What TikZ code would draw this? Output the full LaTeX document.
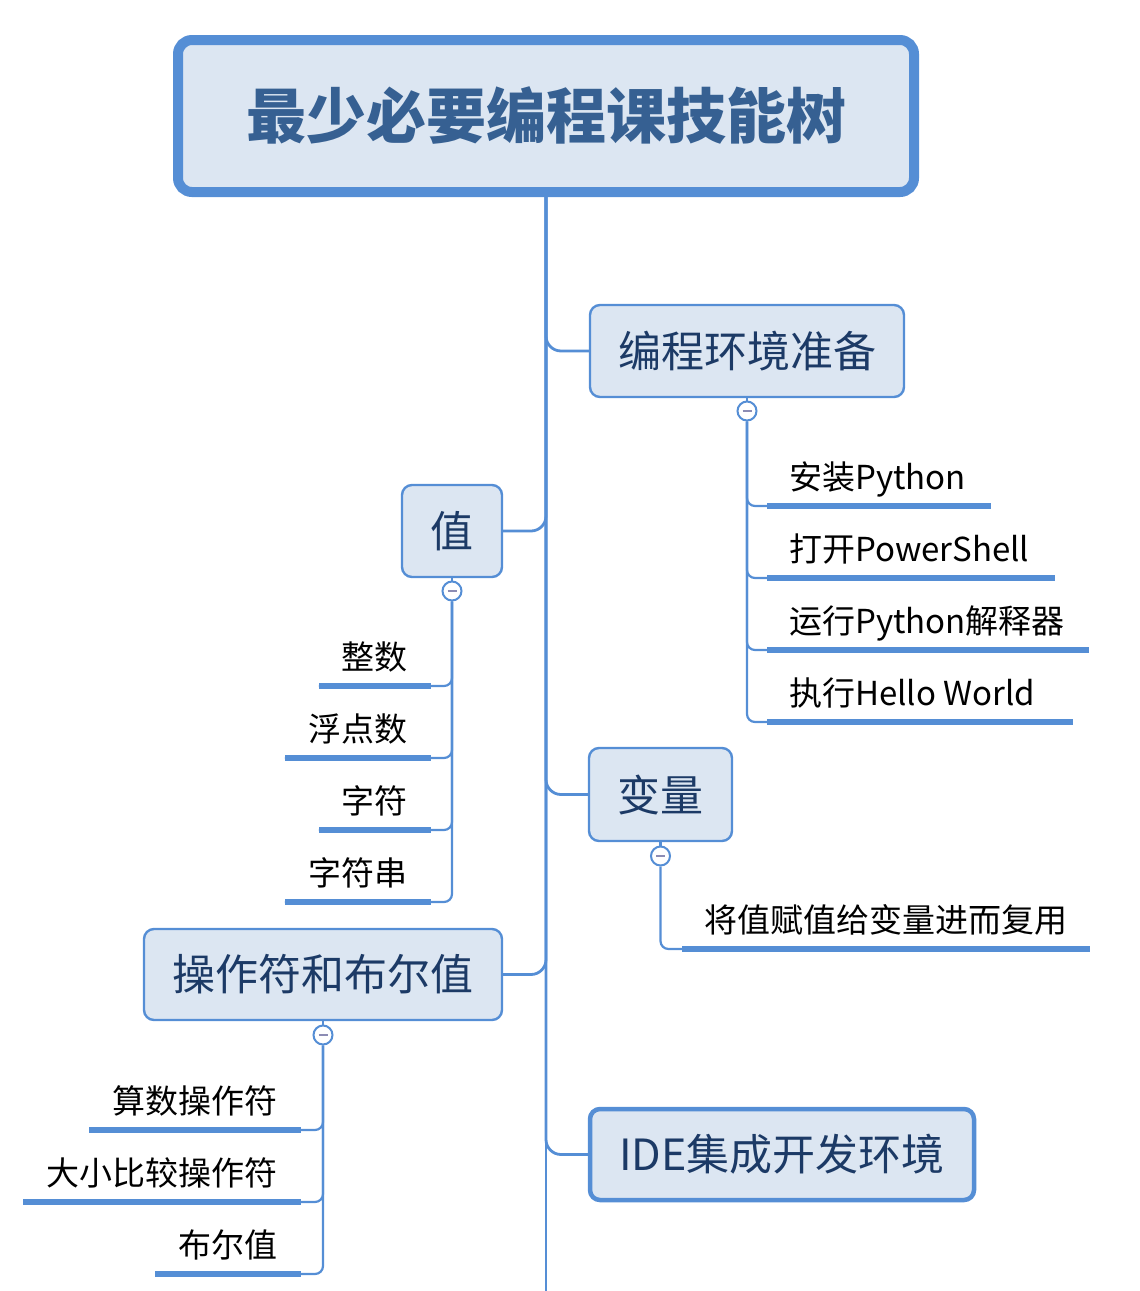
\documentclass[tikz,border=0pt]{standalone}
\usepackage{fontspec}
\newfontfamily\cjk{Noto Sans CJK SC}
\definecolor{lineblue}{HTML}{558ED5}
\definecolor{boxfill}{HTML}{DCE6F2}
\definecolor{roottext}{HTML}{366092}
\definecolor{topictext}{HTML}{1C3A66}
\definecolor{minuscol}{HTML}{8C8CB4}
\begin{document}
\begin{tikzpicture}[x=1pt,y=-1pt,
  topic/.style={draw=lineblue, line width=2.4pt, fill=boxfill, rounded corners=10pt,
    font=\cjk\fontsize{43}{50}\selectfont, text=topictext, inner sep=0pt},
  fold/.style={circle, draw=lineblue, line width=2pt, fill=white, minimum size=19pt, inner sep=0pt,
    path picture={\draw[minuscol, line width=2.5pt]
      ([xshift=-4.5pt]path picture bounding box.center) -- ([xshift=4.5pt]path picture bounding box.center);}},
  uline/.style={fill=lineblue, minimum height=5.5pt, inner sep=0pt},
  leaf/.style={font=\cjk\fontsize{33}{40}\selectfont, text=black, inner sep=0pt},
  conn/.style={draw=lineblue, line width=2.8pt, rounded corners=15pt},
  subconn/.style={draw=lineblue, line width=2.2pt, rounded corners=8pt},
]
\useasboundingbox (0,0) rectangle (1140,1291);

% root
\node[draw=lineblue, line width=10pt, fill=boxfill, rounded corners=14pt,
  minimum width=736pt, minimum height=152pt, inner sep=0pt,
  font=\cjk\bfseries\fontsize{60}{70}\selectfont, text=roottext] (root) at (546,116) {最少必要编程课技能树};
\coordinate (trunkend) at (546,1291);
\draw[draw=lineblue, line width=2.8pt] (root.south) -- (trunkend);

% topics
\node[topic, minimum width=314pt, minimum height=92pt] (env) at (747,351) {编程环境准备};
\node[topic, minimum width=100pt, minimum height=92pt] (val) at (452,531) {值};
\node[topic, minimum width=143pt, minimum height=93pt] (var) at (660.5,794.5) {变量};
\node[topic, minimum width=358pt, minimum height=91pt] (op) at (323,974.5) {操作符和布尔值};
\node[topic, line width=4.5pt, minimum width=384pt, minimum height=91pt] (ide) at (782,1154.5) {IDE集成开发环境};

\draw[conn] (root.south) |- (env.west);
\draw[conn] (root.south) |- (val.east);
\draw[conn] (root.south) |- (var.west);
\draw[conn] (root.south) |- (op.east);
\draw[conn] (root.south) |- (ide.west);

% fold markers
\node[fold] (envf) at (747,411) {};
\node[fold] (valf) at (452,591) {};
\node[fold] (varf) at (660.5,856) {};
\node[fold] (opf) at (323,1035) {};
\draw[subconn] (env.south) -- (envf.north);
\draw[subconn] (val.south) -- (valf.north);
\draw[subconn] (var.south) -- (varf.north);
\draw[subconn] (op.south) -- (opf.north);

% env children
\node[uline, minimum width=224pt] (u1) at (879,506) {};
\node[uline, minimum width=288pt] (u2) at (911,578) {};
\node[uline, minimum width=322pt] (u3) at (928,650) {};
\node[uline, minimum width=306pt] (u4) at (920,722) {};
\node[leaf, anchor=base west] (t1) at (789,489) {安装Python};
\node[leaf, anchor=base west] (t2) at (789,561) {打开PowerShell};
\node[leaf, anchor=base west] (t3) at (789,633) {运行Python解释器};
\node[leaf, anchor=base west] (t4) at (789,705) {执行Hello World};
\foreach \u in {u1,u2,u3,u4} \draw[subconn] (envf.south) |- (\u.west);

% value children
\node[uline, minimum width=112pt] (v1) at (375,686) {};
\node[uline, minimum width=146pt] (v2) at (358,758) {};
\node[uline, minimum width=112pt] (v3) at (375,830) {};
\node[uline, minimum width=146pt] (v4) at (358,902) {};
\node[leaf, anchor=base east] (w1) at (408,669) {整数};
\node[leaf, anchor=base east] (w2) at (408,741) {浮点数};
\node[leaf, anchor=base east] (w3) at (408,813) {字符};
\node[leaf, anchor=base east] (w4) at (408,885) {字符串};
\foreach \v in {v1,v2,v3,v4} \draw[subconn] (valf.south) |- (\v.west);

% variable child
\node[uline, minimum width=408pt] (r1) at (886,949) {};
\node[leaf, anchor=base west] (s1) at (704,932) {将值赋值给变量进而复用};
\draw[subconn] (varf.south) |- (r1.west);

% operator children
\node[uline, minimum width=212pt] (o1) at (195,1130) {};
\node[uline, minimum width=278pt] (o2) at (162,1202) {};
\node[uline, minimum width=146pt] (o3) at (228,1274) {};
\node[leaf, anchor=base east] (p1) at (278,1113) {算数操作符};
\node[leaf, anchor=base east] (p2) at (278,1185) {大小比较操作符};
\node[leaf, anchor=base east] (p3) at (278,1257) {布尔值};
\foreach \o in {o1,o2,o3} \draw[subconn] (opf.south) |- (\o.east);
\end{tikzpicture}
\end{document}
